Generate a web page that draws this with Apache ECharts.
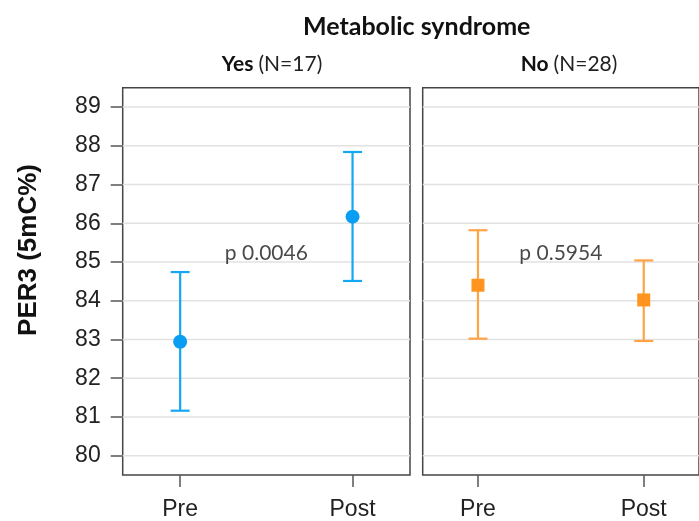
<!DOCTYPE html>
<html>
<head>
<meta charset="utf-8">
<script src="https://cdn.jsdelivr.net/npm/echarts@6/dist/echarts.min.js"></script>
<style>html,body{margin:0;padding:0;background:#fff}#c{width:699px;height:521px}</style>
</head>
<body>
<div id="c"></div>
<script>
const categories = ['Pre', 'Post'];
const yTicks = [80, 81, 82, 83, 84, 85, 86, 87, 88, 89];
const yesMean = [82.94, 86.17];
const yesLow = [81.16, 84.51];
const yesHigh = [84.74, 87.84];
const noMean = [84.40, 84.02];
const noLow = [83.02, 82.96];
const noHigh = [85.82, 85.04];
const pLabels = ['p 0.0046', 'p 0.5954'];
const pY = [85.23, 85.23];
const panelTitles = [['Yes', '(N=17)'], ['No', '(N=28)']];

const BLUE = '#0A9EF2', BLUE_L = '#14A8F2';
const ORANGE = '#FF951F', ORANGE_L = '#FFA446';

const chart = echarts.init(document.getElementById('c'), null, {renderer: 'canvas'});

function errData(low, high) { return categories.map((c, i) => [i, low[i], high[i]]); }
function meanData(m) { return categories.map((c, i) => [i, m[i]]); }

function errorRender(color) {
  return function (params, api) {
    const x = api.value(0);
    const lo = api.coord([x, api.value(1)]);
    const hi = api.coord([x, api.value(2)]);
    const hw = 9.5;
    const style = {stroke: color, lineWidth: 2.2, fill: null};
    return {
      type: 'group',
      children: [
        {type: 'line', shape: {x1: lo[0], y1: lo[1], x2: hi[0], y2: hi[1]}, style: style},
        {type: 'line', shape: {x1: lo[0] - hw, y1: lo[1], x2: lo[0] + hw, y2: lo[1]}, style: style},
        {type: 'line', shape: {x1: hi[0] - hw, y1: hi[1], x2: hi[0] + hw, y2: hi[1]}, style: style}
      ]
    };
  };
}

function gridLineRender(params, api) {
  const cs = params.coordSys;
  const p = api.coord([0.5, api.value(1)]);
  return {type: 'line', shape: {x1: cs.x, y1: p[1], x2: cs.x + cs.width, y2: p[1]},
    style: {stroke: '#E2E2E2', lineWidth: 1.5}};
}

const gridTop = 87.7, gridH = 387.3, gridW = 287.3;
const grids = [
  {left: 122.7, top: gridTop, width: gridW, height: gridH, show: true, borderColor: '#454545', borderWidth: 1.5, backgroundColor: 'transparent'},
  {left: 422.7, top: gridTop, width: gridW, height: gridH, show: true, borderColor: '#454545', borderWidth: 1.5, backgroundColor: 'transparent'}
];

function xAxis(gi) {
  return {
    type: 'value', gridIndex: gi, min: -1/3, max: 4/3, position: 'bottom',
    axisLine: {show: false, onZero: false},
    splitLine: {show: false},
    axisTick: {show: true, customValues: [0, 1], length: 12, lineStyle: {color: '#555', width: 1.5}},
    axisLabel: {show: true, customValues: [0, 1], formatter: v => categories[Math.round(v)] || '',
      fontFamily: 'Liberation Sans', fontSize: 23, color: '#222', margin: 23}
  };
}
function yAxis(gi, labels) {
  return {
    type: 'value', gridIndex: gi, min: 79.5, max: 89.5, position: 'left',
    axisLine: {show: false, onZero: false},
    splitLine: {show: false},
    axisTick: {show: labels, customValues: yTicks, length: 12, lineStyle: {color: '#555', width: 1.5}},
    axisLabel: {show: labels, customValues: yTicks, fontFamily: 'Liberation Sans', fontSize: 23, color: '#222', margin: 22}
  };
}

function gridLines(gi) {
  return {
    type: 'custom', xAxisIndex: gi, yAxisIndex: gi, silent: true, z: 1,
    renderItem: gridLineRender,
    data: yTicks.map(v => [0.5, v]),
    encode: {x: 0, y: 1}
  };
}

function pText(gi) {
  return {
    type: 'scatter', xAxisIndex: gi, yAxisIndex: gi, symbolSize: 0, silent: true,
    data: [[0.5, pY[gi]]],
    label: {show: true, position: 'inside', formatter: pLabels[gi], fontFamily: 'Lato', fontSize: 21, color: '#1a1a1a'}
  };
}

const subRich = {
  b: {fontFamily: 'Lato', fontWeight: 'bold', fontSize: 21, color: '#111'},
  n: {fontFamily: 'Lato', fontWeight: 'normal', fontSize: 21, color: '#222'}
};

const option = {
  animation: false,
  backgroundColor: '#fff',
  title: [
    {text: 'Metabolic syndrome', left: 411.7, top: 9, textAlign: 'center',
      textStyle: {fontFamily: 'Lato', fontWeight: 'bold', fontSize: 25, color: '#111'}},
    {text: '{b|' + panelTitles[0][0] + '} {n|' + panelTitles[0][1] + '}', left: 267, top: 49, textAlign: 'center',
      textStyle: {fontWeight: 'normal', rich: subRich}},
    {text: '{b|' + panelTitles[1][0] + '} {n|' + panelTitles[1][1] + '}', left: 564, top: 49, textAlign: 'center',
      textStyle: {fontWeight: 'normal', rich: subRich}}
  ],
  graphic: [
    {type: 'text', rotation: Math.PI / 2, x: 29, y: 250,
      style: {text: 'PER3 (5mC%)', fontFamily: 'Liberation Sans', fontWeight: 'bold', fontSize: 26, fill: '#111', textAlign: 'center', textVerticalAlign: 'middle'}}
  ],
  grid: grids,
  xAxis: [xAxis(0), xAxis(1)],
  yAxis: [yAxis(0, true), yAxis(1, false)],
  series: [
    gridLines(0), gridLines(1),
    {type: 'custom', xAxisIndex: 0, yAxisIndex: 0, renderItem: errorRender(BLUE_L), data: errData(yesLow, yesHigh), encode: {x: 0, y: [1, 2]}, z: 3},
    {type: 'custom', xAxisIndex: 1, yAxisIndex: 1, renderItem: errorRender(ORANGE_L), data: errData(noLow, noHigh), encode: {x: 0, y: [1, 2]}, z: 3},
    {type: 'scatter', xAxisIndex: 0, yAxisIndex: 0, symbol: 'circle', symbolSize: 14, itemStyle: {color: BLUE, opacity: 1}, data: meanData(yesMean), z: 5},
    {type: 'scatter', xAxisIndex: 1, yAxisIndex: 1, symbol: 'rect', symbolSize: 13, itemStyle: {color: ORANGE, opacity: 1}, data: meanData(noMean), z: 5},
    pText(0), pText(1)
  ]
};
chart.setOption(option);
</script>
</body>
</html>
